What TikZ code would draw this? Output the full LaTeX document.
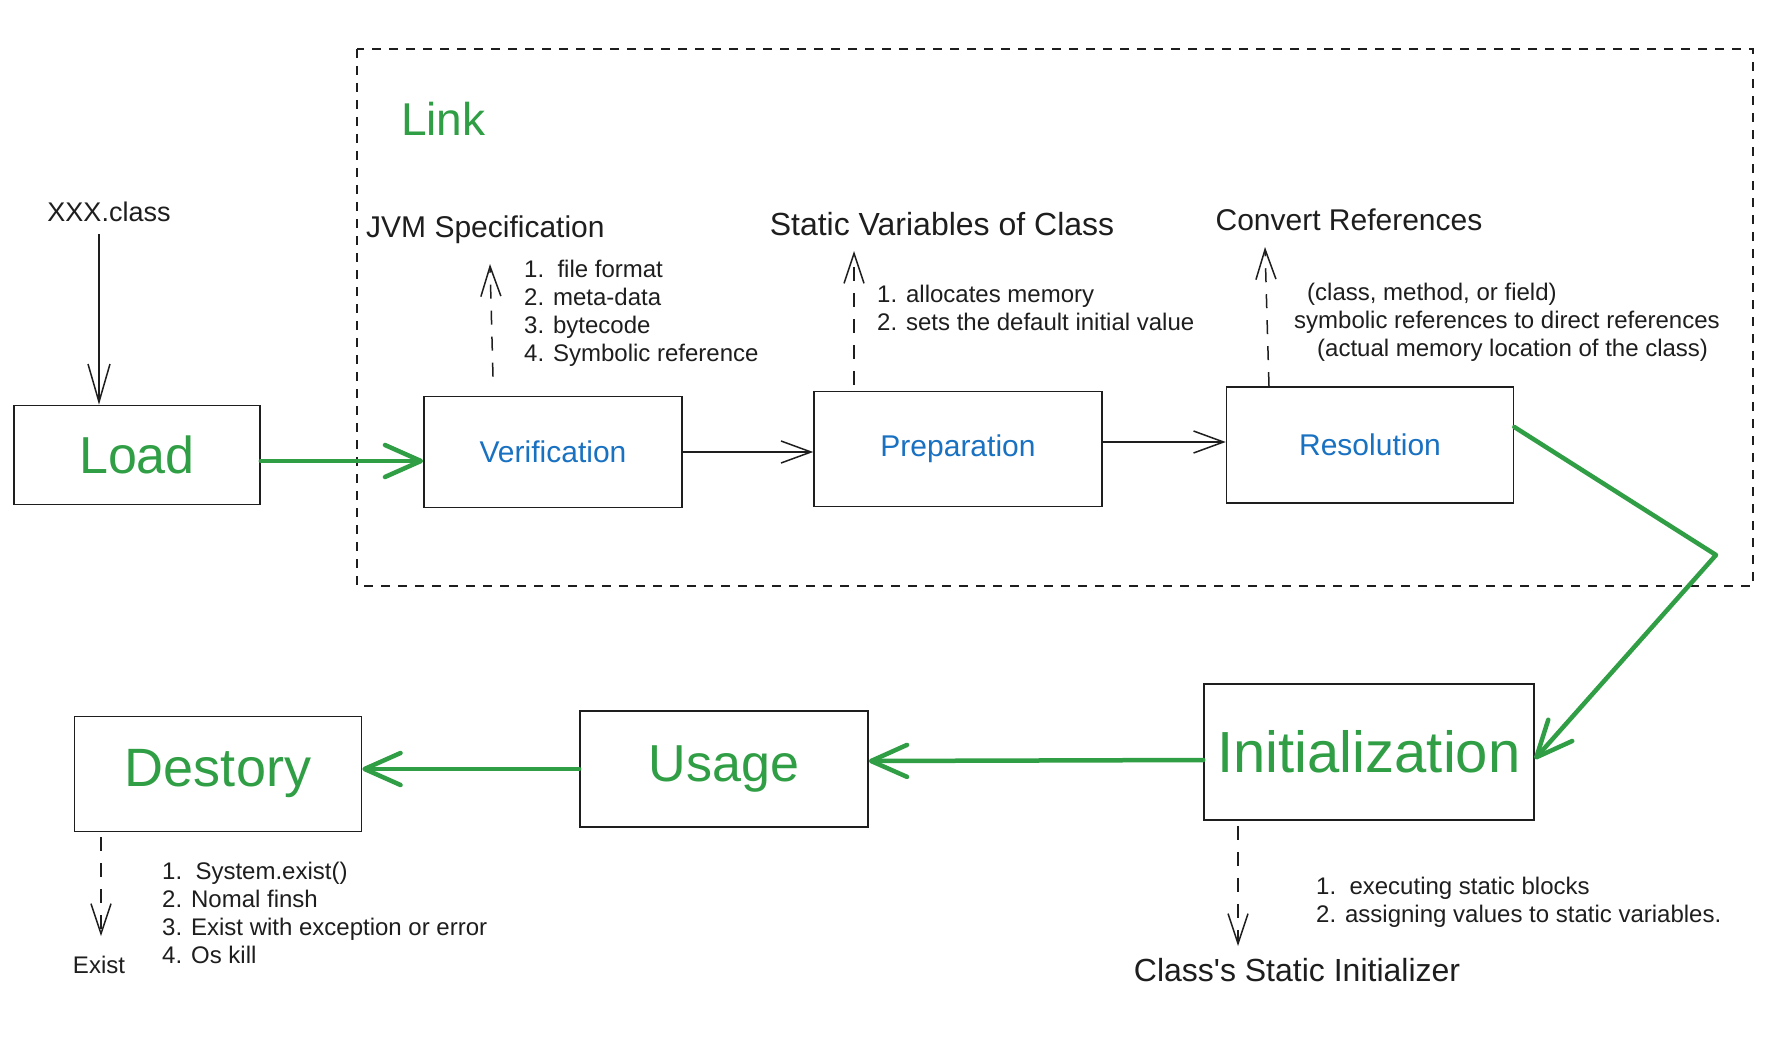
\documentclass[tikz,border=0pt]{standalone}
\usepackage{fontspec}
\setmainfont{Liberation Sans}
\usetikzlibrary{arrows.meta}
\definecolor{exgreen}{HTML}{2F9E44}
\definecolor{exblue}{HTML}{1971C2}
\definecolor{exink}{HTML}{1E1E1E}
\tikzset{
  stagebox/.style={draw=exink, line width=1.6pt, inner sep=0pt, align=center},
  bigtext/.style={text=exgreen, font=\fontsize{54}{62}\selectfont},
  bluetext/.style={text=exblue, font=\fontsize{30}{34}\selectfont},
  headtext/.style={text=exink, font=\fontsize{30}{34}\selectfont, inner sep=0pt},
  notetext/.style={text=exink, font=\fontsize{24}{28}\selectfont, align=left, inner sep=0pt},
  greenflow/.style={draw=exgreen, line width=4.5pt, line cap=round, line join=round,
    -{Straight Barb[length=36pt,width=32pt,round]}},
  thinflow/.style={draw=exink, line width=1.5pt, -{Straight Barb[length=30pt,width=22pt]}},
  dashflow/.style={draw=exink, line width=1.5pt, dash pattern=on 14pt off 12pt,
    -{Straight Barb[length=30pt,width=20pt]}},
  linkframe/.style={draw=exink, line width=1.6pt, dash pattern=on 9pt off 8pt}
}
\begin{document}
\begin{tikzpicture}[x=1pt,y=-1pt]
\useasboundingbox[fill=white] (0,0) rectangle (1776,1043);

% Link frame
\draw[linkframe] (357,49) rectangle (1753,586);
\node[anchor=west, text=exgreen, font=\fontsize{46}{52}\selectfont, inner sep=0pt] (link) at (401,119) {Link};

% stage boxes
\node[stagebox, minimum width=246pt, minimum height=99pt, bigtext, font=\fontsize{52}{60}\selectfont] (load) at (137,455) {Load};
\node[stagebox, minimum width=258pt, minimum height=111pt, bluetext] (verif) at (553,452) {Verification};
\node[stagebox, minimum width=288pt, minimum height=115pt, bluetext] (prep) at (958,449) {Preparation};
\node[stagebox, minimum width=287pt, minimum height=116pt, bluetext] (res) at (1370,445) {Resolution};
\node[stagebox, minimum width=330pt, minimum height=136pt, bigtext, font=\fontsize{58}{66}\selectfont] (init) at (1369,752) {Initialization};
\node[stagebox, minimum width=288pt, minimum height=116pt, bigtext, font=\fontsize{52}{60}\selectfont] (usage) at (724,769) {Usage};
\node[stagebox, minimum width=287pt, minimum height=115pt, bigtext] (destory) at (218,774) {Destory};

% texts
\node[headtext, font=\fontsize{27}{32}\selectfont] (xxx) at (109,212) {XXX.class};
\node[headtext, anchor=west] (jvm) at (366,230) {JVM Specification};
\node[notetext, anchor=west] (vnotes) at (524,313) {1.\ \ file format\\2. meta-data\\3. bytecode\\4. Symbolic reference};
\node[headtext, font=\fontsize{32}{36}\selectfont] (statvar) at (942,224) {Static Variables of Class};
\node[notetext, anchor=west] (pnotes) at (877,308) {1. allocates memory\\2. sets the default initial value};
\node[headtext] (convref) at (1349,220) {Convert References};
\node[notetext, anchor=west] (rnotes) at (1294,322) {\hspace*{13pt}(class, method, or field)\\symbolic references to direct references\\\hspace*{23pt}(actual memory location of the class)};
\node[notetext, anchor=west] (inotes) at (1316,902) {1.\ \ executing static blocks\\2. assigning values to static variables.};
\node[headtext, font=\fontsize{32}{36}\selectfont] (clinit) at (1297,970) {Class\textquotesingle s Static Initializer};
\node[notetext, anchor=west] (dnotes) at (162,913) {1.\ \ System.exist()\\2. Nomal finsh\\3. Exist with exception or error\\4. Os kill};
\node[notetext] (exist) at (99,965) {Exist};

% free ends of the dashed arrows
\coordinate (vtip) at (490,264);
\coordinate (ptip) at (854,251);
\coordinate (rtip) at (1265,247);
\coordinate (itip) at (1238,946);
\coordinate (dtip) at (101,936);
\coordinate (bend) at (1716,555);

% connectors
\draw[draw=exink, line width=1.5pt, -{Straight Barb[length=38pt,width=22pt]}] (xxx.south) ++(-10pt,-12pt) coordinate (xs) -- (xs |- load.north);
\draw[greenflow] ([yshift=-6pt]load.east) -- ([yshift=-9pt]verif.west);
\draw[thinflow] (verif.east) -- (verif.east -| prep.west);
\draw[thinflow] ([yshift=7pt]prep.east) -- ([yshift=7pt]prep.east -| res.west);
\draw[greenflow] ([yshift=18pt]res.east) -- (bend) -- ([yshift=-7pt]init.east);
\draw[greenflow] ([yshift=-8pt]init.west) -- ([yshift=8pt]usage.east);
\draw[greenflow] (usage.west) -- (usage.west -| destory.east);

\draw[dashflow] ([xshift=-60pt,yshift=19pt]verif.north) -- (vtip);
\draw[dashflow] ([xshift=-104pt,yshift=6pt]prep.north) -- (ptip);
\draw[dashflow] ([xshift=-101pt]res.north) -- (rtip);
\draw[dashflow] ([xshift=-131pt,yshift=-5pt]init.south) -- (itip);
\draw[dashflow] ([xshift=-117pt,yshift=-5pt]destory.south) -- (dtip);
\end{tikzpicture}
\end{document}
